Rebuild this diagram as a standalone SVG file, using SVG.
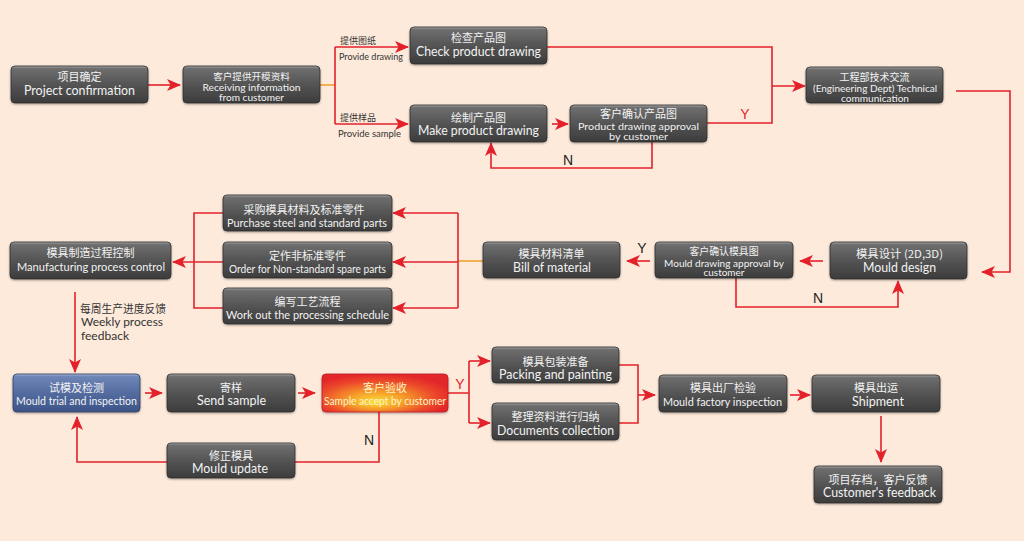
<svg xmlns="http://www.w3.org/2000/svg" width="1024" height="541" viewBox="0 0 1024 541">
<defs>
<linearGradient id="gg" x1="0" y1="0" x2="0" y2="1">
<stop offset="0" stop-color="#a8a8a8"/>
<stop offset="0.07" stop-color="#6e6e6e"/>
<stop offset="0.5" stop-color="#545454"/>
<stop offset="1" stop-color="#3c3c3c"/>
</linearGradient>
<linearGradient id="gb" x1="0" y1="0" x2="0" y2="1">
<stop offset="0" stop-color="#a9b8d8"/>
<stop offset="0.07" stop-color="#6d84b6"/>
<stop offset="0.5" stop-color="#546ca0"/>
<stop offset="1" stop-color="#3d5488"/>
</linearGradient>
<radialGradient id="gr" cx="0.45" cy="0.6" r="0.6" fx="0.42" fy="0.75">
<stop offset="0" stop-color="#f9e33a"/>
<stop offset="0.35" stop-color="#f6a22a"/>
<stop offset="0.75" stop-color="#ec4a2c"/>
<stop offset="1" stop-color="#e3262b"/>
</radialGradient>
<filter id="sh" x="-5%" y="-10%" width="110%" height="130%">
<feDropShadow dx="0" dy="1" stdDeviation="0.8" flood-color="#000" flood-opacity="0.35"/>
</filter>
<marker id="ar" markerWidth="14" markerHeight="12" refX="13" refY="6" orient="auto" markerUnits="userSpaceOnUse">
<path d="M0,0 L14,6 L0,12 L3.5,6 Z" fill="#e3212b"/>
</marker>
<style>
.box{fill:url(#gg);stroke:#2e2e2e;stroke-width:0.8;filter:url(#sh)}
.blue{fill:url(#gb);stroke:#2e3e66;stroke-width:0.8;filter:url(#sh)}
.red{fill:url(#gr);stroke:#b81e22;stroke-width:0.8;filter:url(#sh)}
text{font-family:Lato,"Noto Sans CJK SC",sans-serif;text-anchor:middle}
.t{fill:#f2f2f2;font-size:12.5px}
.s{fill:#f2f2f2;font-size:11px}
.s3{fill:#f2f2f2;font-size:9.6px}
.c{fill:#f2f2f2;font-size:11px;font-family:"Noto Sans CJK SC",sans-serif}
.ty{fill:#fff3c8}
.lbl{fill:#333;font-size:10px;text-anchor:start}
.lblc{fill:#333;font-size:9px;text-anchor:start;font-family:"Noto Sans CJK SC",sans-serif}
.wk{fill:#333;font-size:12px;text-anchor:start}
.yn{font-size:14px;font-family:"Liberation Sans",sans-serif;fill:#222}
.yr{fill:#e3212b}
.ln{fill:none;stroke:#e3212b;stroke-width:1.6}
.lo{fill:none;stroke:#f0a030;stroke-width:1.6}
.arr{marker-end:url(#ar)}
</style>
</defs>
<rect width="1024" height="541" fill="#fdeadb"/>

<g id="connectors">
<path class="ln arr" d="M148,85 H180"/>
<path class="lo" d="M320,85 H335"/>
<path class="ln" d="M335,47 V124"/>
<path class="ln arr" d="M335,47 H408"/>
<path class="ln arr" d="M335,124 H408"/>
<path class="ln" d="M547,47 H772 V123 H707"/>
<path class="ln arr" d="M772,86 H805"/>
<path class="ln arr" d="M552,124 H568"/>
<path class="ln arr" d="M652,142 V168 H491 V143"/>
<path class="ln arr" d="M956,91 H1010 V272 H982"/>
<path class="ln arr" d="M823,261 H800"/>
<path class="ln arr" d="M736,278 V307 H898 V281"/>
<path class="ln arr" d="M650,261 H627"/>
<path class="lo" d="M483,261 H458"/>
<path class="ln" d="M458,213 V308"/>
<path class="ln arr" d="M458,213 H393"/>
<path class="ln arr" d="M458,262 H393"/>
<path class="ln arr" d="M458,308 H393"/>
<path class="ln" d="M223,213 H194 V308 H223"/>
<path class="ln arr" d="M223,262 H173"/>
<path class="ln arr" d="M75,292 V372"/>
<path class="ln arr" d="M145,393 H162"/>
<path class="ln arr" d="M298,393 H315"/>
<path class="ln" d="M379,412 V462 H295"/>
<path class="ln arr" d="M167,462 H77 V417"/>
<path class="ln" d="M448,393 H469 M469,361 V423"/>
<path class="ln arr" d="M469,361 H490"/>
<path class="ln arr" d="M469,423 H490"/>
<path class="ln" d="M619,365 H638 V423 H619"/>
<path class="ln arr" d="M638,395 H655"/>
<path class="ln arr" d="M790,395 H810"/>
<path class="ln arr" d="M881,416 V462"/>
</g>

<g id="labels">
<text class="lblc" x="340" y="44" textLength="36" lengthAdjust="spacingAndGlyphs">提供图纸</text>
<text class="lbl" x="339" y="60" textLength="64" lengthAdjust="spacingAndGlyphs">Provide drawing</text>
<text class="lblc" x="340" y="121" textLength="36" lengthAdjust="spacingAndGlyphs">提供样品</text>
<text class="lbl" x="338" y="137" textLength="63" lengthAdjust="spacingAndGlyphs">Provide sample</text>
<text class="yn yr" x="745" y="119">Y</text>
<text class="yn" x="568" y="165">N</text>
<text class="yn" x="642" y="253">Y</text>
<text class="yn" x="818" y="303">N</text>
<text class="wk" x="80" y="313" style="font-family:'Noto Sans CJK SC',sans-serif;font-size:11px" textLength="86" lengthAdjust="spacingAndGlyphs">每周生产进度反馈</text>
<text class="wk" x="81" y="326" textLength="82" lengthAdjust="spacingAndGlyphs">Weekly process</text>
<text class="wk" x="81" y="340" textLength="48" lengthAdjust="spacingAndGlyphs">feedback</text>
<text class="yn yr" x="460" y="389">Y</text>
<text class="yn" x="369" y="445">N</text>
</g>

<g id="n1"><rect class="box" x="11" y="66" width="137" height="37" rx="4"/>
<text class="c" x="79.5" y="81">项目确定</text><text class="t" x="79.5" y="95" textLength="111" lengthAdjust="spacingAndGlyphs">Project confirmation</text></g>

<g id="n2"><rect class="box" x="183" y="66" width="137" height="37" rx="4"/>
<text class="c" x="251.5" y="80" style="font-size:9.6px">客户提供开模资料</text><text class="s3" x="251.5" y="91" textLength="98" lengthAdjust="spacingAndGlyphs">Receiving information</text><text class="s3" x="251.5" y="101" textLength="65" lengthAdjust="spacingAndGlyphs">from customer</text></g>

<g id="n3"><rect class="box" x="410" y="27" width="137" height="37" rx="4"/>
<text class="c" x="478.5" y="42">检查产品图</text><text class="t" x="478.5" y="56" textLength="125" lengthAdjust="spacingAndGlyphs">Check product drawing</text></g>

<g id="n4"><rect class="box" x="410" y="105" width="137" height="37" rx="4"/>
<text class="c" x="478.5" y="122">绘制产品图</text><text class="t" x="478.5" y="135" textLength="121" lengthAdjust="spacingAndGlyphs">Make product drawing</text></g>

<g id="n5"><rect class="box" x="570" y="105" width="137" height="37" rx="4"/>
<text class="c" x="638.5" y="118">客户确认产品图</text><text class="s3" x="638.5" y="130" style="font-size:10px" textLength="121" lengthAdjust="spacingAndGlyphs">Product drawing approval</text><text class="s3" x="638.5" y="140" style="font-size:10px" textLength="59" lengthAdjust="spacingAndGlyphs">by customer</text></g>

<g id="n6"><rect class="box" x="806" y="67" width="137" height="36" rx="4"/>
<text class="c" x="874.5" y="81" style="font-size:10px">工程部技术交流</text><text class="s3" x="875" y="92" textLength="124" lengthAdjust="spacingAndGlyphs">(Engineering Dept) Technical</text><text class="s3" x="875" y="102" textLength="68" lengthAdjust="spacingAndGlyphs">communication</text></g>

<g id="n7"><rect class="box" x="830" y="242" width="137" height="37" rx="4"/>
<text class="c" x="899.5" y="258" textLength="87" lengthAdjust="spacingAndGlyphs">模具设计 (2D,3D)</text><text class="t" x="899.5" y="272" textLength="73" lengthAdjust="spacingAndGlyphs">Mould design</text></g>

<g id="n8"><rect class="box" x="655" y="242" width="138" height="36" rx="4"/>
<text class="c" x="724" y="255" style="font-size:9.9px">客户确认模具图</text><text class="s3" x="724" y="266.5" style="font-size:9.2px" textLength="120" lengthAdjust="spacingAndGlyphs">Mould drawing approval by</text><text class="s3" x="724" y="276" style="font-size:9.2px" textLength="41" lengthAdjust="spacingAndGlyphs">customer</text></g>

<g id="n9"><rect class="box" x="483" y="242" width="137" height="36" rx="4"/>
<text class="c" x="551.5" y="258">模具材料清单</text><text class="t" x="552" y="272" textLength="78" lengthAdjust="spacingAndGlyphs">Bill of material</text></g>

<g id="n10"><rect class="box" x="223" y="195" width="169" height="36" rx="4"/>
<text class="c" x="304" y="214">采购模具材料及标准零件</text><text class="s" x="307" y="227" textLength="160" lengthAdjust="spacingAndGlyphs">Purchase steel and standard parts</text></g>

<g id="n11"><rect class="box" x="223" y="242" width="169" height="36" rx="4"/>
<text class="c" x="307.5" y="260">定作非标准零件</text><text class="s" x="307.5" y="273" textLength="157" lengthAdjust="spacingAndGlyphs">Order for Non-standard spare parts</text></g>

<g id="n12"><rect class="box" x="223" y="288" width="169" height="36" rx="4"/>
<text class="c" x="307.5" y="306">编写工艺流程</text><text class="s" x="307.5" y="319" textLength="163" lengthAdjust="spacingAndGlyphs">Work out the processing schedule</text></g>

<g id="n13"><rect class="box" x="10" y="242" width="161" height="37" rx="4"/>
<text class="c" x="90.5" y="257">模具制造过程控制</text><text class="s" x="91" y="271" textLength="148" lengthAdjust="spacingAndGlyphs">Manufacturing process control</text></g>

<g id="n14"><rect class="blue" x="13" y="374" width="127" height="38" rx="4"/>
<text class="c" x="76.5" y="392">试模及检测</text><text class="s" x="76.5" y="405" textLength="121" lengthAdjust="spacingAndGlyphs">Mould trial and inspection</text></g>

<g id="n15"><rect class="box" x="167" y="374" width="128" height="38" rx="4"/>
<text class="c" x="231" y="392">寄样</text><text class="t" x="231.5" y="405" textLength="69" lengthAdjust="spacingAndGlyphs">Send sample</text></g>

<g id="n16"><rect class="red" x="322" y="374" width="126" height="38" rx="4"/>
<text class="c ty" x="385" y="392">客户验收</text><text class="s ty" x="385" y="405" textLength="122" lengthAdjust="spacingAndGlyphs">Sample accept by customer</text></g>

<g id="n17"><rect class="box" x="167" y="443" width="128" height="35" rx="4"/>
<text class="c" x="231" y="460">修正模具</text><text class="t" x="230" y="473" textLength="76" lengthAdjust="spacingAndGlyphs">Mould update</text></g>

<g id="n18"><rect class="box" x="492" y="347" width="127" height="36" rx="4"/>
<text class="c" x="555.5" y="366">模具包装准备</text><text class="t" x="555.5" y="379" textLength="113" lengthAdjust="spacingAndGlyphs">Packing and painting</text></g>

<g id="n19"><rect class="box" x="492" y="403" width="127" height="37" rx="4"/>
<text class="c" x="555.5" y="421">整理资料进行归纳</text><text class="t" x="555.5" y="435" textLength="117" lengthAdjust="spacingAndGlyphs">Documents collection</text></g>

<g id="n20"><rect class="box" x="659" y="375" width="128" height="37" rx="4"/>
<text class="c" x="723" y="392">模具出厂检验</text><text class="s" x="722.5" y="406" textLength="119" lengthAdjust="spacingAndGlyphs">Mould factory inspection</text></g>

<g id="n21"><rect class="box" x="812" y="375" width="128" height="37" rx="4"/>
<text class="c" x="876" y="392">模具出运</text><text class="t" x="878" y="406" textLength="52" lengthAdjust="spacingAndGlyphs">Shipment</text></g>

<g id="n22"><rect class="box" x="814" y="466" width="128" height="37" rx="4"/>
<text class="c" x="878" y="484">项目存档，客户反馈</text><text class="t" x="879.5" y="497" textLength="113" lengthAdjust="spacingAndGlyphs">Customer's feedback</text></g>
</svg>
